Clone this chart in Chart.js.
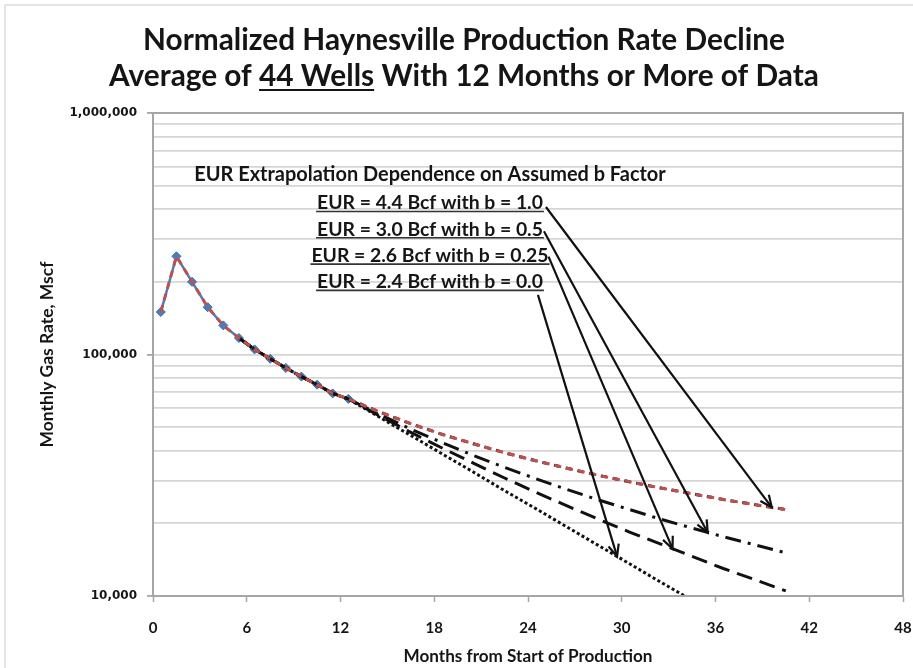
<!DOCTYPE html>
<html>
<head>
<meta charset="utf-8">
<script src="https://cdn.jsdelivr.net/npm/chart.js@4.4.1/dist/chart.umd.min.js"></script>
<style>
  html, body { margin: 0; padding: 0; background: #ffffff; }
  #wrap { width: 913px; height: 668px; position: relative; }
</style>
</head>
<body>
<div id="wrap"><canvas id="c" width="913" height="668"></canvas></div>
<script>
// ---- chart text ----
const titleLines = [
  'Normalized Haynesville Production Rate Decline',
  'Average of 44 Wells With 12 Months or More of Data'
];
const titleUnderlined = '44 Wells';
const xAxisTitle = 'Months from Start of Production';
const yAxisTitle = 'Monthly Gas Rate, Mscf';

// ---- axis ticks ----
const xTicks = [0, 6, 12, 18, 24, 30, 36, 42, 48];
const yTicks = [10000, 100000, 1000000];

// ---- measured average well (months from start, Mscf/month) ----
const dataMonths = [0.5, 1.5, 2.5, 3.5, 4.5, 5.5, 6.5, 7.5, 8.5, 9.5, 10.5, 11.5, 12.5];
const dataRate   = [150000, 255000, 200000, 157000, 132000, 117000, 105000, 96000, 88000, 81000, 75000, 69000, 65500];

// ---- decline extrapolations for different b factors ----
const fitStartMonth = 5.5;
const extMonths = [12.5, 14.5, 16.5, 18.5, 20.5, 22.5, 24.5, 26.5, 28.5, 30.5, 32.5, 34.5, 36.5, 38.5, 40.5];
const rateB10  = [65500, 57800, 51700, 46700, 42700, 39200, 36300, 33800, 31600, 29700, 28000, 26500, 25100, 23900, 22800];
const rateB05  = [65500, 56400, 49100, 43200, 38200, 34100, 30600, 27600, 25000, 22800, 20800, 19100, 17600, 16300, 15100];
const rateB025 = [65500, 55700, 47600, 41000, 35500, 30800, 26900, 23600, 20800, 18400, 16400, 14600, 13000, 11700, 10500];
const rateB00  = [65500, 55000, 46200, 38800, 32600, 27300, 23000, 19300, 16200, 13600, 11400, 9600];

// ---- call-out text and where each arrow lands (month on its curve) ----
const noteHeading = 'EUR Extrapolation Dependence on Assumed b Factor';
const noteLabels = [
  'EUR = 4.4 Bcf with b = 1.0',
  'EUR = 3.0 Bcf with b = 0.5',
  'EUR = 2.6 Bcf with b = 0.25',
  'EUR = 2.4 Bcf with b = 0.0'
];
const arrowMonths = [39.6, 35.5, 33.25, 29.7];

// ---- layout / style settings ----
const FONT = 'Lato, "Open Sans", sans-serif';
const TEXT = '#151515';
const GRID = '#d6d6d6';
const FRAME = '#a6a6a6';
const noteLayout = {
  centerX: 277,          // from chart-area left
  headingY: 62,          // from chart-area top
  firstLabelY: 90,
  labelStep: 26.3,
  underlineDrop: 8.5,
  tailOffsets: [[3, 4], [1, 2], [0, 1], [-5, 13]]
};

const measureCtx = document.createElement('canvas').getContext('2d');
function fitSize(text, width) {
  measureCtx.font = 'bold 100px ' + FONT;
  return 100 * width / measureCtx.measureText(text).width;
}

function toPoints(months, values) {
  return values.map((v, i) => ({ x: months[i], y: v }));
}

function rateAt(points, m) {
  for (let i = 1; i < points.length; i++) {
    const a = points[i - 1], b = points[i];
    if (m >= a.x && m <= b.x) {
      const f = (m - a.x) / (b.x - a.x);
      return Math.pow(10, Math.log10(a.y) + f * (Math.log10(b.y) - Math.log10(a.y)));
    }
  }
  return points[points.length - 1].y;
}

function build() {
  const sizes = {
    title: fitSize(titleLines[0], 642),
    heading: fitSize(noteHeading, 472),
    label: fitSize(noteLabels[0], 226),
    xTitle: fitSize(xAxisTitle, 249),
    yTitle: fitSize(yAxisTitle, 186)
  };

  const measured = toPoints(dataMonths, dataRate);
  const lead = measured.filter(p => p.x >= fitStartMonth && p.x < extMonths[0]);
  const curveB10 = lead.concat(toPoints(extMonths, rateB10));
  const curveB05 = lead.concat(toPoints(extMonths, rateB05));
  const curveB025 = lead.concat(toPoints(extMonths, rateB025));
  const curveB00 = lead.concat(toPoints(extMonths, rateB00));
  const fitCurve = measured.filter(p => p.x < extMonths[0]).concat(toPoints(extMonths, rateB10));
  const arrowCurves = [curveB10, curveB05, curveB025, curveB00];

  const titlePlugin = {
    id: 'twoLineTitle',
    afterDraw(chart) {
      const ctx = chart.ctx;
      ctx.save();
      // light outer frame of the chart object
      ctx.strokeStyle = '#dcdcdc';
      ctx.lineWidth = 1.5;
      ctx.strokeRect(5, 5, 920, 680);
      ctx.font = 'bold ' + sizes.title.toFixed(2) + 'px ' + FONT;
      ctx.fillStyle = TEXT;
      ctx.textAlign = 'center';
      ctx.textBaseline = 'middle';
      const cx = 464;
      const ys = [40, 76];
      titleLines.forEach((t, i) => ctx.fillText(t, cx, ys[i]));
      // underline the well count in the second line
      const line = titleLines[1];
      const full = ctx.measureText(line).width;
      const start = cx - full / 2 + ctx.measureText(line.slice(0, line.indexOf(titleUnderlined))).width;
      const w = ctx.measureText(titleUnderlined).width;
      ctx.strokeStyle = TEXT;
      ctx.lineWidth = 2;
      ctx.beginPath();
      ctx.moveTo(start, ys[1] + 14);
      ctx.lineTo(start + w, ys[1] + 14);
      ctx.stroke();
      ctx.restore();
    }
  };

  const framePlugin = {
    id: 'plotFrame',
    afterDatasetsDraw(chart) {
      const { ctx, chartArea: a } = chart;
      ctx.save();
      ctx.strokeStyle = FRAME;
      ctx.lineWidth = 2;
      ctx.strokeRect(a.left, a.top, a.right - a.left, a.bottom - a.top);
      ctx.restore();
    }
  };

  const notePlugin = {
    id: 'bFactorNotes',
    afterDraw(chart) {
      const { ctx, chartArea: a, scales } = chart;
      const cx = a.left + noteLayout.centerX;
      ctx.save();
      ctx.fillStyle = TEXT;
      ctx.textAlign = 'center';
      ctx.textBaseline = 'middle';
      ctx.font = 'bold ' + sizes.heading.toFixed(2) + 'px ' + FONT;
      ctx.fillText(noteHeading, cx, a.top + noteLayout.headingY);
      ctx.font = 'bold ' + sizes.label.toFixed(2) + 'px ' + FONT;
      noteLabels.forEach((t, i) => {
        const y = a.top + noteLayout.firstLabelY + i * noteLayout.labelStep;
        const w = ctx.measureText(t).width;
        ctx.fillStyle = TEXT;
        ctx.fillText(t, cx, y);
        ctx.strokeStyle = '#333';
        ctx.lineWidth = 1.6;
        ctx.beginPath();
        ctx.moveTo(cx - w / 2 - 1, y + noteLayout.underlineDrop);
        ctx.lineTo(cx + w / 2 + 1, y + noteLayout.underlineDrop);
        ctx.stroke();

        // arrow from the label to its curve
        const off = noteLayout.tailOffsets[i];
        const x0 = cx + w / 2 + off[0];
        const y0 = y + off[1];
        const m = arrowMonths[i];
        const x1 = scales.x.getPixelForValue(m);
        const y1 = scales.y.getPixelForValue(rateAt(arrowCurves[i], m));
        ctx.strokeStyle = '#111';
        ctx.lineWidth = 2.2;
        ctx.beginPath();
        ctx.moveTo(x0, y0);
        ctx.lineTo(x1, y1);
        ctx.stroke();
        const ang = Math.atan2(y1 - y0, x1 - x0);
        const len = 13, spread = 0.42;
        ctx.beginPath();
        ctx.moveTo(x1 - len * Math.cos(ang - spread), y1 - len * Math.sin(ang - spread));
        ctx.lineTo(x1, y1);
        ctx.lineTo(x1 - len * Math.cos(ang + spread), y1 - len * Math.sin(ang + spread));
        ctx.stroke();
      });
      ctx.restore();
    }
  };

  new Chart(document.getElementById('c'), {
    type: 'line',
    data: {
      datasets: [
        { label: 'Fit', data: fitCurve, borderColor: '#c0504d', borderWidth: 3,
          borderDash: [7, 5], pointRadius: 0, order: 0 },
        { label: 'b = 1.0', data: curveB10, borderColor: '#111', borderWidth: 3,
          borderDash: [6, 6], borderDashOffset: 6, pointRadius: 0, order: 1 },
        { label: 'b = 0.5', data: curveB05, borderColor: '#111', borderWidth: 3,
          borderDash: [16, 7, 3, 7], pointRadius: 0, order: 2 },
        { label: 'b = 0.25', data: curveB025, borderColor: '#111', borderWidth: 3,
          borderDash: [16, 8], pointRadius: 0, order: 3 },
        { label: 'b = 0.0', data: curveB00, borderColor: '#111', borderWidth: 3,
          borderDash: [3, 2.5], pointRadius: 0, order: 4 },
        { label: 'Average', data: measured, borderColor: '#4a7ebb', borderWidth: 2.5,
          pointStyle: 'rectRot', pointRadius: 4.5, pointBackgroundColor: '#4a7ebb',
          pointBorderColor: '#3d6aa3', pointBorderWidth: 1, order: 5 }
      ]
    },
    options: {
      responsive: false,
      animation: false,
      events: [],
      layout: { padding: { top: 113, right: 0, left: 0, bottom: 0 } },
      plugins: { legend: { display: false }, tooltip: { enabled: false }, title: { display: false } },
      scales: {
        x: {
          type: 'linear', min: 0, max: 48,
          afterBuildTicks: s => { s.ticks = xTicks.map(v => ({ value: v })); },
          afterFit: s => { s.height = 72; s.paddingRight = 10; },
          grid: { drawOnChartArea: false, drawTicks: true, tickLength: 6, tickColor: FRAME, tickWidth: 1.5 },
          border: { color: FRAME, width: 2 },
          ticks: { autoSkip: false, maxRotation: 0, padding: 17, color: TEXT,
                   font: { family: FONT, weight: 'bold', size: 15 } },
          title: { display: true, text: xAxisTitle, color: TEXT, padding: { top: 0, bottom: 1 },
                   font: { family: FONT, weight: 'bold', size: sizes.xTitle } }
        },
        y: {
          type: 'logarithmic', min: 10000, max: 1000000,
          afterBuildTicks: s => {
            const t = [];
            for (let d = 10000; d <= 1000000; d *= 10) {
              for (let k = 1; k <= 9; k++) {
                const v = d * k;
                if (v > 1000000) break;
                t.push({ value: v, major: k === 1 });
              }
            }
            s.ticks = t;
          },
          afterFit: s => { s.width = 153; },
          grid: {
            color: GRID, lineWidth: 1.8, tickLength: 6, drawTicks: true,
            tickColor: c => (c.tick && yTicks.includes(c.tick.value)) ? FRAME : 'rgba(0,0,0,0)'
          },
          border: { color: FRAME, width: 2 },
          ticks: {
            autoSkip: false, padding: 10, color: TEXT,
            font: { family: '"DejaVu Sans", sans-serif', weight: 'bold', size: 12 },
            callback: v => yTicks.includes(v) ? v.toLocaleString('en-US') : ''
          },
          title: { display: true, text: yAxisTitle, color: TEXT, padding: { top: 37, bottom: 0 },
                   font: { family: FONT, weight: 'bold', size: sizes.yTitle } }
        }
      }
    },
    plugins: [framePlugin, notePlugin, titlePlugin]
  });
}

Promise.all([
  document.fonts.load('bold 20px Lato'),
  document.fonts.load('bold 12px "DejaVu Sans"')
]).then(build, build);
</script>
</body>
</html>
